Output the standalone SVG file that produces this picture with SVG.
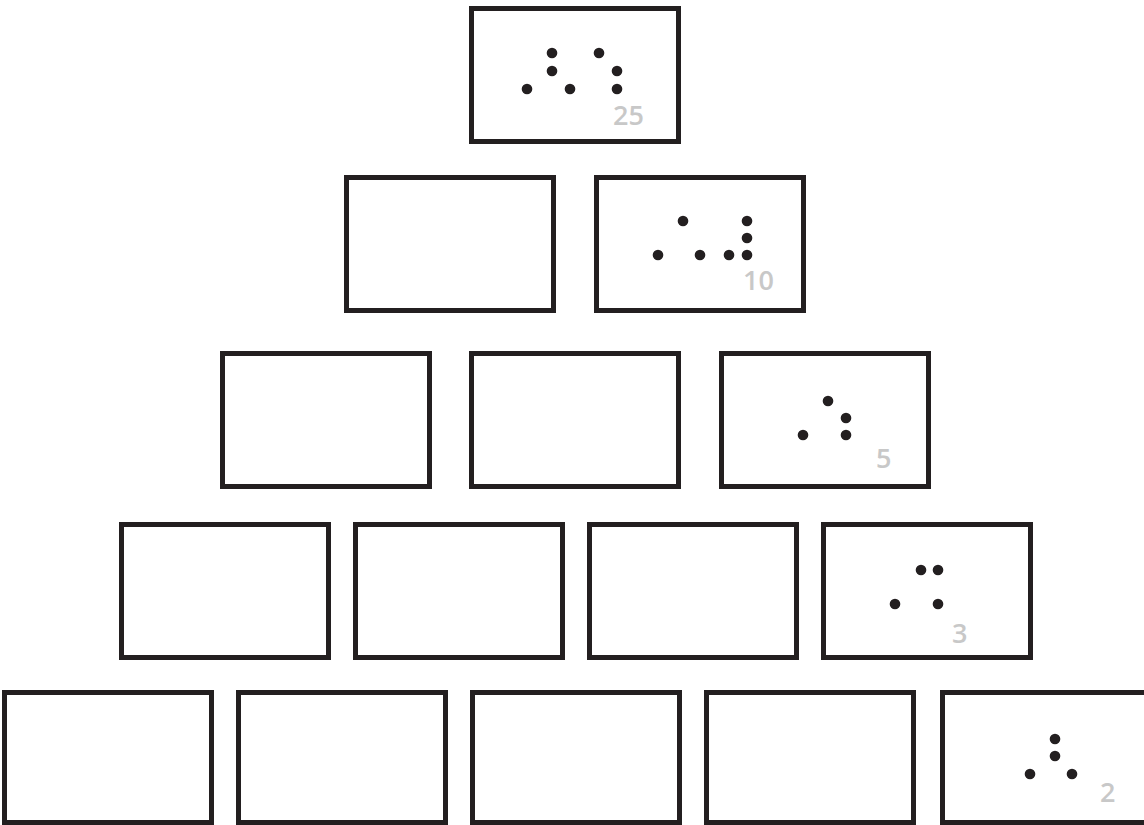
<svg xmlns="http://www.w3.org/2000/svg" width="1144" height="825" viewBox="0 0 1144 825">
<style>
.box{fill:#fff;stroke:#231f20;stroke-width:5}
.dot{fill:#231f20}
.num{font-family:"Open Sans","Liberation Sans",sans-serif;font-size:27px;font-weight:600;fill:#c8c8c8}
</style>
<rect width="1144" height="825" fill="#fff"/>
<g id="connectors"></g>
<g id="r0c0"><rect class="box" x="471.5" y="8.5" width="207" height="133"/>
<circle class="dot" cx="552" cy="53" r="5.3"/><circle class="dot" cx="599" cy="53" r="5.3"/>
<circle class="dot" cx="552" cy="71" r="5.3"/><circle class="dot" cx="617" cy="71" r="5.3"/>
<circle class="dot" cx="527" cy="89" r="5.3"/><circle class="dot" cx="570" cy="89" r="5.3"/><circle class="dot" cx="617" cy="89" r="5.3"/>
<text class="num" x="613" y="125">25</text></g>
<g id="r1c0"><rect class="box" x="346.5" y="177.5" width="207" height="133"/></g>
<g id="r1c1"><rect class="box" x="596.5" y="177.5" width="207" height="133"/>
<circle class="dot" cx="683" cy="221" r="5.3"/><circle class="dot" cx="747" cy="221" r="5.3"/>
<circle class="dot" cx="747" cy="238" r="5.3"/>
<circle class="dot" cx="658" cy="255" r="5.3"/><circle class="dot" cx="700" cy="255" r="5.3"/><circle class="dot" cx="729" cy="255" r="5.3"/><circle class="dot" cx="747" cy="255" r="5.3"/>
<text class="num" x="743" y="290">10</text></g>
<g id="r2c0"><rect class="box" x="222.5" y="353.5" width="207" height="133"/></g>
<g id="r2c1"><rect class="box" x="471.5" y="353.5" width="207" height="133"/></g>
<g id="r2c2"><rect class="box" x="721.5" y="353.5" width="207" height="133"/>
<circle class="dot" cx="828" cy="401" r="5.3"/><circle class="dot" cx="846" cy="418" r="5.3"/>
<circle class="dot" cx="803" cy="435" r="5.3"/><circle class="dot" cx="846" cy="435" r="5.3"/>
<text class="num" x="876" y="468">5</text></g>
<g id="r3c0"><rect class="box" x="121.5" y="524.5" width="207" height="133"/></g>
<g id="r3c1"><rect class="box" x="355.5" y="524.5" width="207" height="133"/></g>
<g id="r3c2"><rect class="box" x="589.5" y="524.5" width="207" height="133"/></g>
<g id="r3c3"><rect class="box" x="823.5" y="524.5" width="207" height="133"/>
<circle class="dot" cx="921" cy="570" r="5.3"/><circle class="dot" cx="938" cy="570" r="5.3"/>
<circle class="dot" cx="895" cy="604" r="5.3"/><circle class="dot" cx="938" cy="604" r="5.3"/>
<text class="num" x="952" y="643">3</text></g>
<g id="r4c0"><rect class="box" x="4.5" y="692.5" width="207" height="130"/></g>
<g id="r4c1"><rect class="box" x="238.5" y="692.5" width="207" height="130"/></g>
<g id="r4c2"><rect class="box" x="472.5" y="692.5" width="207" height="130"/></g>
<g id="r4c3"><rect class="box" x="706.5" y="692.5" width="207" height="130"/></g>
<g id="r4c4"><rect class="box" x="942.5" y="692.5" width="207" height="130"/>
<circle class="dot" cx="1055" cy="739" r="5.3"/><circle class="dot" cx="1055" cy="756" r="5.3"/>
<circle class="dot" cx="1030" cy="774" r="5.3"/><circle class="dot" cx="1072" cy="774" r="5.3"/>
<text class="num" x="1100" y="802">2</text></g>
</svg>
